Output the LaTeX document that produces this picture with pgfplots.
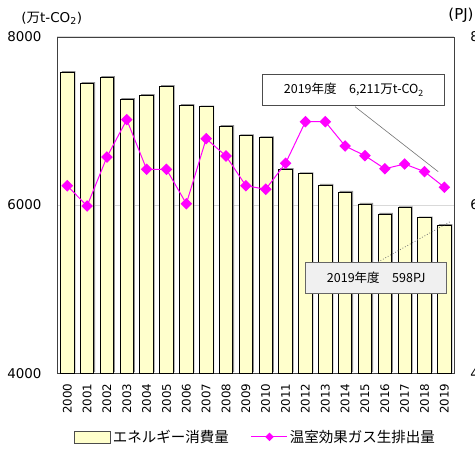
\documentclass[border=0pt]{standalone}
\usepackage{fontspec}
\setmainfont{DejaVu Sans}
\newfontfamily\jp{Noto Sans CJK JP}
\usepackage{pgfplots}
\usepackage{pgfplotstable}
\pgfplotsset{compat=1.18}
\definecolor{barfill}{HTML}{FFFFCC}
\definecolor{linemag}{HTML}{FF00FF}

% energy in PJ (right axis), emissions in 10^4 t-CO2 (left axis)
\pgfplotstableread{
year energy co2
2000 757.7 6229
2001 744.6 5988
2002 751.8 6570
2003 725.6 7014
2004 730.4 6424
2005 741.1 6424
2006 718.5 6015
2007 716.8 6788
2008 693.5 6582
2009 682.4 6229
2010 680.0 6187
2011 642.4 6496
2012 637.2 6990
2013 623.8 6990
2014 615.4 6701
2015 601.2 6586
2016 589.3 6431
2017 596.8 6487
2018 584.9 6396
2019 575.9 6211
}\data

\pgfplotsset{
  base/.style={
    width=397pt, height=336.6pt, scale only axis,
    xmin=1999.5, xmax=2019.5,
    major tick length=0pt,
    /pgf/number format/1000 sep={},
    /pgf/number format/assume math mode=true,
    axis line style={black!75},
  },
  lineleg/.style={legend image code/.code={
    \draw[##1, mark size=2.5pt, mark repeat=2, mark phase=2]
      plot coordinates {(0pt,0pt) (18pt,0pt) (36pt,0pt)};}},
}

\begin{document}
\begin{tikzpicture}
\begin{axis}[base,
    ymin=400, ymax=800, ytick={400,600,800},
    yticklabel pos=right,
    xtick={2000,...,2019}, xtick pos=bottom,
    xticklabel style={rotate=90, anchor=east, inner sep=0pt,
      font=\fontsize{11.8}{12}\selectfont},
    xticklabel shift=10pt,
    yticklabel style={anchor=west, inner sep=0pt,
      font=\fontsize{13.4}{14}\selectfont},
    yticklabel shift=16pt,
    ymajorgrids, grid style={color=black!15, line width=0.8pt},
]
\addplot[ybar, bar width=13.5pt, fill=black!45, draw=none,
  xshift=1.3pt, yshift=1.2pt] table[x=year, y=energy]{\data};
\addplot[ybar, bar width=13.5pt, fill=barfill, draw=black,
  line width=0.8pt] table[x=year, y=energy]{\data};
\end{axis}

\begin{axis}[base,
    ymin=4000, ymax=8000, ytick={4000,6000,8000},
    axis x line=none, axis y line*=left,
    yticklabel style={anchor=east, inner sep=0pt,
      font=\fontsize{13.4}{14}\selectfont},
    yticklabel shift=15.6pt,
    legend style={at={(0.042,-0.189)}, anchor=west, draw=none, fill=none,
      inner sep=0pt, font=\jp\fontsize{14.5}{16}\selectfont,
      /tikz/every even column/.append style={column sep=20pt}},
    legend columns=2,
]
\addlegendimage{legend image code/.code={
  \draw[fill=barfill, draw=black!70, line width=0.8pt] (0pt,-6pt) rectangle (36pt,6pt);}}
\addlegendentry{エネルギー消費量}
\addplot[linemag, line width=1pt, mark=square*, mark size=3.6pt,
  mark options={rotate=45}, lineleg]
  table[x=year, y=co2]{\data};
\addlegendentry{温室効果ガス生排出量}

\draw[black!55, line width=0.6pt] (axis cs:2014.50,7168) -- (axis cs:2018.69,6396);
\node[draw=black!70, fill=white, line width=0.8pt, inner sep=0pt,
  minimum width=182pt, minimum height=31.7pt,
  font=\jp\fontsize{12.5}{14}\selectfont]
  at (axis cs:2014.44,7368) {2019年度\quad 6,211万t-CO\textsubscript{2}};
\draw[black!55, dotted, line width=0.8pt] (axis cs:2015.66,5323) -- (axis cs:2019.28,5801);
\node[draw=black!60, fill=black!6, line width=0.8pt, inner sep=0pt,
  minimum width=141pt, minimum height=31pt,
  font=\jp\fontsize{12.5}{14}\selectfont]
  at (axis cs:2015.57,5135) {2019年度\quad 598PJ};
\end{axis}

\node[font=\fontsize{13.5}{14}\selectfont] at (-5.6pt,355.3pt) {({\jp 万}t-CO\textsubscript{2})};
\node[anchor=east, inner sep=0pt, font=\fontsize{15}{16}\selectfont] at (416.5pt,358.3pt) {(PJ)};

\pgfresetboundingbox
\path[use as bounding box] (-57.3pt,-76.7pt) rectangle (417.7pt,373.3pt);
\end{tikzpicture}
\end{document}
